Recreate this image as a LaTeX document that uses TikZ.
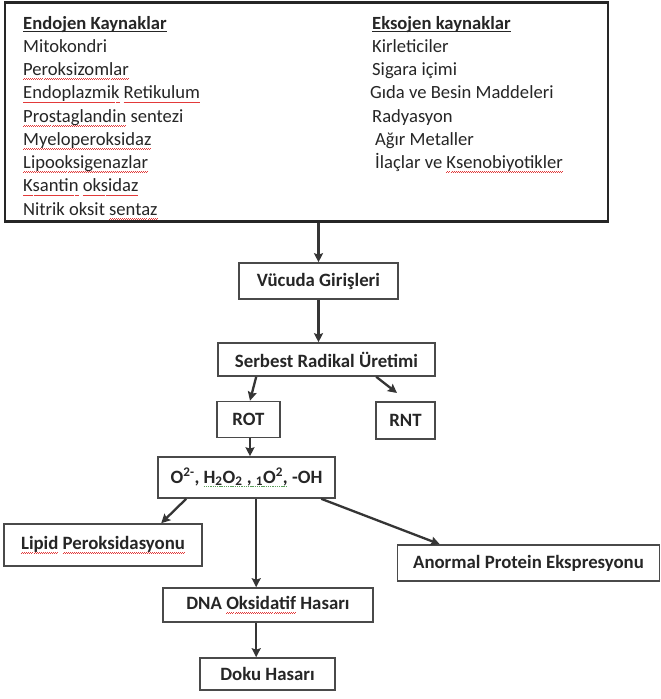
\documentclass[tikz,border=0pt]{standalone}
\usepackage{fontspec}
\setmainfont{Carlito}
\usetikzlibrary{arrows.meta}

\definecolor{ink}{HTML}{262626}
\definecolor{edge}{HTML}{4A4A4A}
\definecolor{arrowink}{HTML}{353535}
\definecolor{spellred}{HTML}{E23A3A}
\definecolor{gramgreen}{HTML}{5AA05A}

\newsavebox\markbox
% red wavy line under flagged words (a stepped leader of tiny rules)
\newcommand\spell[1]{\sbox\markbox{#1}%
  \rlap{\hbox to \wd\markbox{\color{spellred}\xleaders\hbox{\rule[-4.2pt]{1pt}{0.7pt}\rule[-3.4pt]{1pt}{0.7pt}}\hfil}}%
  \usebox\markbox}
% green dotted line under a flagged phrase
\newcommand\gram[1]{\sbox\markbox{#1}%
  \rlap{\hbox to \wd\markbox{\color{gramgreen}\xleaders\hbox{\rule[-3.6pt]{1.4pt}{0.7pt}\kern0.8pt}\hfil}}%
  \usebox\markbox}
% solid underline for the column headings
\newcommand\headline[1]{\sbox\markbox{#1}%
  \rlap{\rule[-2.6pt]{\wd\markbox}{1pt}}\usebox\markbox}

\tikzset{
  item/.style={anchor=base west, inner sep=0pt, text=ink, font=\fontsize{18.6}{22}\selectfont},
  head/.style={item, font=\fontsize{18.6}{22}\selectfont\bfseries},
  box/.style={draw=edge, line width=1.6pt, fill=white, inner sep=0pt, text=ink,
              font=\fontsize{18.8}{22}\selectfont\bfseries},
  arr/.style={draw=arrowink, line width=2.3pt, -{Stealth[length=9pt,width=9pt,inset=1.5pt]}},
}

\begin{document}
\begin{tikzpicture}[x=1pt,y=-1pt]
\useasboundingbox[fill=white] (0,0) rectangle (661,699);

% sources frame
\node[draw=black!85, line width=2.8pt, minimum width=603pt, minimum height=219pt, inner sep=0pt] (src) at (306.5,112) {};

% endogenous sources
\node[head] (l1) at (23,29.0) {\headline{Endojen Kaynaklar}};
\node[item] (l2) at (23,52.3) {Mitokondri};
\node[item] (l3) at (23,75.5) {\spell{Peroksizomlar}};
\node[item] (l4) at (23,98.8) {\spell{Endoplazmik} \spell{Retikulum}};
\node[item] (l5) at (23,122.0) {\spell{Prostaglandin} sentezi};
\node[item] (l6) at (23,145.3) {\spell{Myeloperoksidaz}};
\node[item] (l7) at (23,168.5) {\spell{Lipooksigenazlar}};
\node[item] (l8) at (23,191.8) {\spell{Ksantin} \spell{oksidaz}};
\node[item] (l9) at (23,215.0) {Nitrik oksit \spell{sentaz}};

% exogenous sources
\node[head] (r1) at (372,29.0) {\headline{Eksojen kaynaklar}};
\node[item] (r2) at (372,52.3) {Kirleticiler};
\node[item] (r3) at (372,75.5) {Sigara içimi};
\node[item] (r4) at (370,98.8) {Gıda ve Besin Maddeleri};
\node[item] (r5) at (372,122.0) {Radyasyon};
\node[item] (r6) at (375,145.3) {Ağır Metaller};
\node[item] (r7) at (375,168.5) {İlaçlar ve \spell{Ksenobiyotikler}};

% process chain
\node[box, minimum width=159pt, minimum height=36pt] (vg) at (318.5,281) {Vücuda Girişleri};
\node[box, minimum width=217pt, minimum height=33pt] (sr) at (326.5,359.5) {Serbest Radikal Üretimi};
\node[box, minimum width=63pt, minimum height=36pt] (rot) at (248.5,419.5) {ROT};
\node[box, minimum width=59pt, minimum height=37pt] (rnt) at (405.5,420.5) {RNT};
\node[box, minimum width=177pt, minimum height=41pt] (ox) at (246.5,477.5)
  {O\textsuperscript{2-}, \gram{H\textsubscript{2}O\textsubscript{2} , \textsubscript{1}O\textsuperscript{2},} -OH};
\node[box, minimum width=198pt, minimum height=42pt] (lp) at (103,545) {\spell{Lipid} \spell{Peroksidasyonu}};
\node[box, minimum width=262pt, minimum height=36pt] (ap) at (528.5,563) {Anormal Protein Ekspresyonu};
\node[box, minimum width=210pt, minimum height=34pt] (dna) at (268,605) {DNA \spell{Oksidatif} Hasarı};
\node[box, minimum width=135pt, minimum height=32pt] (dk) at (267.5,674) {Doku Hasarı};

\coordinate (rntin) at (397,393);

% connectors
\draw[arr] (vg.north |- src.south) -- (vg.north);
\draw[arr] (vg.south) -- (vg.south |- sr.north);
\draw[arr] ([xshift=39pt]sr.south west) -- ([xshift=1.5pt]rot.north);
\draw[arr] ([xshift=159pt]sr.south west) -- (rntin);
\draw[arr] ([xshift=1.5pt]rot.south) -- ([xshift=1.5pt]rot.south |- ox.north);
\draw[arr] ([xshift=29pt]ox.south west) -- ([xshift=158pt]lp.north west);
\draw[arr] ([xshift=99pt]ox.south west) -- ([xshift=99pt]ox.south west |- dna.north);
\draw[arr] ([xshift=164pt]ox.south west) -- ([xshift=43pt]ap.north west);
\draw[arr] ([xshift=94pt]dna.south west) -- ([xshift=94pt]dna.south west |- dk.north);
\end{tikzpicture}
\end{document}
